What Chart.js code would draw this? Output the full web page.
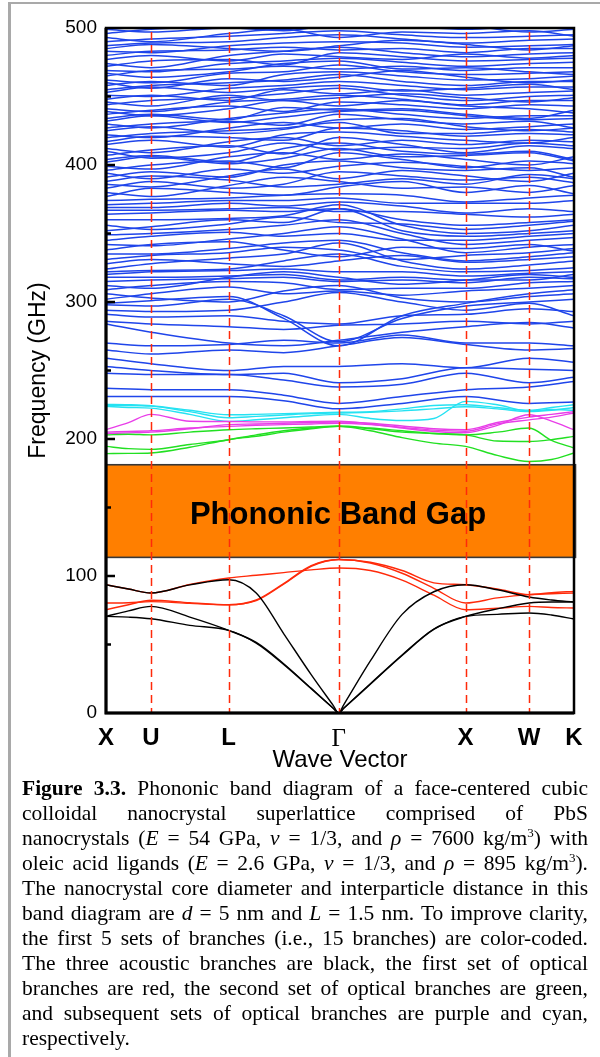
<!DOCTYPE html>
<html>
<head>
<meta charset="utf-8">
<script src="https://cdn.jsdelivr.net/npm/chart.js@4.4.1/dist/chart.umd.min.js"></script>
<style>
  html, body { margin: 0; padding: 0; background: #fff; }
  #page { position: relative; width: 600px; height: 1057px; overflow: hidden; }
  #frame { position: absolute; left: 8px; top: 2px; width: 700px; height: 1200px;
           border-top: 2px solid #a9a9a9; border-left: 3px solid #a9a9a9; }
  #plot { position: absolute; left: 0; top: 0; }
  #caption { position: absolute; left: 22px; top: 776px; width: 566px;
             font-family: 'Liberation Serif', 'Times New Roman', serif; font-size: 21.5px;
             line-height: 25px; color: #000; }
  #caption div { text-align: justify; text-align-last: justify; white-space: nowrap; }
  #caption div.last { text-align-last: left; }
  #caption sup { font-size: 13px; line-height: 0; vertical-align: 8px; }
</style>
</head>
<body>
<div id="page">
  <div id="frame"></div>
  <canvas id="plot" width="600" height="780"></canvas>
  <div id="caption">
    <div><b>Figure 3.3.</b> Phononic band diagram of a face-centered cubic</div>
    <div>colloidal nanocrystal superlattice comprised of PbS</div>
    <div>nanocrystals (<i>E</i> = 54 GPa, <i>ν</i> = 1/3, and <i>ρ</i> = 7600 kg/m<sup>3</sup>) with</div>
    <div>oleic acid ligands (<i>E</i> = 2.6 GPa, <i>ν</i> = 1/3, and <i>ρ</i> = 895 kg/m<sup>3</sup>).</div>
    <div>The nanocrystal core diameter and interparticle distance in this</div>
    <div>band diagram are <i>d</i> = 5 nm and <i>L</i> = 1.5 nm. To improve clarity,</div>
    <div>the first 5 sets of branches (i.e., 15 branches) are color-coded.</div>
    <div>The three acoustic branches are black, the first set of optical</div>
    <div>branches are red, the second set of optical branches are green,</div>
    <div>and subsequent sets of optical branches are purple and cyan,</div>
    <div class="last">respectively.</div>
  </div>
</div>
<script>
// high-symmetry points along X-U-L-Γ-X-W-K (path length in 2π/a)
const symX = [0, 0.354, 0.966, 1.832, 2.832, 3.332, 3.686];
const symLabels = ['X', 'U', 'L', 'Γ', 'X', 'W', 'K'];

// band gap limits (GHz)
const gapLow = 113.6;
const gapHigh = 181.2;

// sample positions for the low branches
const acousticX = [0, 0.177, 0.354, 0.66, 0.966, 1.183, 1.399, 1.616, 1.792, 1.832, 1.872,
                   2.082, 2.332, 2.582, 2.832, 3.082, 3.332, 3.509, 3.686];
const lowX = [0, 0.177, 0.354, 0.66, 0.966, 1.183, 1.399, 1.616, 1.832,
              2.082, 2.332, 2.582, 2.832, 3.082, 3.332, 3.509, 3.686];
// sample positions for the upper branches
const bandX = [0, 0.354, 0.966, 1.399, 1.832, 2.332, 2.832, 3.332, 3.686];

// acoustic branches (black)
const acousticBands = [
  [70.5, 70, 68.8, 64, 60.3, 51, 35.5, 17.8, 3.3, 0, 3.4, 21, 42, 61, 70.5, 72, 73, 71.5, 68.6],
  [70.5, 74.5, 77.8, 70, 60.3, 51.5, 36, 18, 3.3, 0, 3.4, 21.3, 42.3, 61.3, 70.5, 76, 80.3, 81, 81],
  [93.6, 90.5, 87.6, 93.5, 97.3, 87.6, 58, 28, 5.2, 0, 6, 38, 72, 88.5, 93.6, 90, 84.7, 82.5, 81]
];

// first optical set (red)
const redBands = [
  [93.6, 90.5, 87.6, 93.8, 98.5, 100.5, 102.5, 104.5, 105.8, 104, 97, 86, 75.4, 76.5, 77.8, 77, 76.6],
  [80.3, 80.5, 81.3, 80, 79, 82, 94, 107, 112, 109.5, 102, 91, 80.3, 84, 86.4, 87, 87.6],
  [75.4, 79, 82.3, 80.5, 79, 82.5, 94.5, 107.5, 112, 110, 104, 95, 93.6, 90.5, 86.4, 87.8, 88.8]
];

// second optical set (green)
const greenBands = [
  [189.3, 189.5, 189.8, 194, 199.5, 202, 205, 207.5, 209.2, 206, 201, 197, 194.6, 188, 183.6, 185, 189.8],
  [194.6, 193, 192.4, 196, 199.5, 203, 206, 208, 209.2, 207.5, 205, 204, 203, 198.5, 198.2, 199.5, 201.9],
  [203, 203.5, 203, 205, 206.8, 207.5, 208, 208.8, 209.5, 208, 206, 204, 203, 205, 208, 199, 193.4]
];

// third optical set (purple)
const purpleBands = [
  [206.8, 212, 218, 213, 212.8, 212.5, 212.5, 212.8, 213, 211, 208, 205.5, 204.6, 210, 217.7, 213, 206.8],
  [205, 205.5, 206, 208, 209.2, 210, 210.5, 211, 211.5, 210.5, 208.5, 206.5, 205.7, 211, 214, 216, 219],
  [204, 204.5, 205, 207.5, 210.5, 211, 211.5, 212, 212.3, 211.5, 209.5, 207.5, 206.8, 212, 216, 218, 220]
];

// fourth optical set (cyan)
const cyanBands = [
  [225.2, 225, 224.3, 221, 217.7, 218, 218.5, 219, 219.5, 220, 222, 224.5, 225, 223, 221, 223, 225],
  [224.5, 224.5, 224, 220, 215.5, 216.5, 217.5, 218.5, 219, 219.5, 220.5, 222, 223.5, 222, 220, 221, 223],
  [223.8, 223, 222.5, 218, 212.8, 214, 215.5, 217, 218, 215, 213.5, 215, 227.5, 225, 220.5, 221.5, 221]
];

// higher optical branches (blue)
const blueBands = [
  [231, 231, 231, 228, 222, 226, 231, 226, 227],
  [237, 236, 236, 232, 226, 231, 236, 238, 242],
  [248, 247, 247, 243, 238, 240, 248, 241, 245],
  [253, 250, 247, 248, 241, 244, 252, 251, 250],
  [259, 255, 250, 253, 253, 255, 252, 259, 256],
  [265, 262, 265, 263, 268, 274, 269, 265, 266],
  [270, 268, 269, 272, 270, 276, 270, 270, 268],
  [284, 278, 270, 268, 272, 278, 282, 285, 281],
  [286, 284, 282, 280, 283, 284, 286, 284, 286],
  [291, 289, 290, 286, 284, 290, 291, 295, 293],
  [294, 293, 294, 300, 307, 300, 294, 299, 290],
  [298, 297, 302, 290, 271, 288, 297, 300, 302],
  [299, 301, 304, 288, 268, 290, 299, 306, 309],
  [302, 306, 311, 306, 308, 305, 308, 310, 312],
  [306, 303, 300, 308, 312, 303, 300, 304, 306],
  [309, 312, 315, 314, 309, 310, 310, 314, 315],
  [312, 310, 318, 322, 318, 313, 316, 320, 318],
  [315, 316, 317, 318, 315, 316, 314, 318, 317],
  [318, 318, 319, 320, 316, 318, 316, 316, 320],
  [320, 322, 323, 324, 322, 322, 319, 321, 322],
  [322, 323, 324, 330, 335, 326, 322, 323, 325],
  [324, 328, 332, 335, 343, 330, 324, 327, 330],
  [328, 331, 328, 326, 330, 334, 329, 331, 333],
  [331, 334, 336, 340, 338, 331, 334, 336, 339],
  [335, 335, 339, 343, 345, 336, 330, 333, 336],
  [338, 342, 344, 338, 333, 340, 339, 342, 337],
  [342, 341, 346, 350, 355, 346, 336, 340, 342],
  [345, 348, 351, 348, 350, 345, 345, 348, 350],
  [349, 350, 353, 356, 360, 350, 342, 345, 347],
  [352, 355, 360, 358, 368, 352, 348, 350, 352],
  [356, 353, 357, 362, 358, 357, 353, 356, 359],
  [360, 360, 361, 363, 371, 356, 350, 352, 356],
  [364, 365, 367, 366, 368, 360, 356, 358, 360],
  [367, 367, 368, 369, 366, 366, 364, 362, 364],
  [369, 369, 372, 370, 373, 370, 365, 368, 366],
  [371, 372, 374, 374, 376, 372, 372, 372, 374],
  [374, 375, 376, 378, 379, 378, 373, 376, 378],
  [377, 383, 380, 378, 384, 388, 380, 385, 379],
  [380, 377, 385, 391, 388, 383, 384, 380, 385],
  [383, 388, 383, 386, 395, 392, 389, 391, 387],
  [386, 384, 392, 397, 390, 396, 392, 388, 394],
  [388, 392, 389, 384, 386, 390, 386, 393, 390],
  [391, 395, 391, 400, 403, 398, 396, 398, 391],
  [394, 390, 397, 394, 399, 402, 399, 396, 398],
  [396, 400, 403, 398, 409, 404, 398, 403, 401],
  [399, 397, 406, 409, 404, 408, 404, 400, 406],
  [402, 406, 401, 405, 412, 406, 407, 409, 403],
  [404, 407, 402, 412, 416, 410, 408, 410, 404],
  [407, 411, 414, 408, 420, 415, 409, 414, 412],
  [410, 405, 409, 416, 411, 413, 412, 416, 414],
  [412, 409, 417, 420, 414, 418, 415, 418, 417],
  [415, 418, 413, 422, 424, 421, 418, 416, 420],
  [417, 421, 420, 418, 427, 425, 421, 423, 422],
  [420, 423, 425, 427, 431, 423, 423, 426, 424],
  [422, 420, 427, 431, 427, 430, 426, 428, 430],
  [425, 428, 423, 426, 433, 434, 428, 425, 427],
  [427, 430, 432, 429, 437, 433, 430, 432, 427],
  [430, 427, 434, 438, 441, 437, 434, 436, 436],
  [432, 436, 431, 435, 439, 440, 436, 433, 434],
  [434, 437, 433, 442, 440, 441, 437, 434, 440],
  [437, 440, 443, 439, 446, 444, 441, 444, 443],
  [439, 436, 441, 447, 443, 447, 443, 441, 438],
  [441, 439, 446, 448, 451, 448, 444, 447, 447],
  [444, 447, 449, 452, 456, 451, 447, 450, 451],
  [446, 443, 451, 447, 449, 452, 449, 446, 449],
  [448, 451, 447, 455, 452, 455, 451, 453, 454],
  [451, 450, 456, 458, 461, 458, 455, 457, 457],
  [453, 457, 453, 456, 458, 454, 456, 459, 455],
  [455, 458, 460, 462, 466, 461, 458, 461, 461],
  [458, 461, 458, 466, 468, 465, 462, 463, 465],
  [460, 456, 463, 461, 464, 469, 464, 460, 462],
  [462, 460, 467, 468, 473, 468, 466, 467, 468],
  [465, 469, 470, 472, 470, 472, 469, 471, 471],
  [467, 464, 468, 474, 476, 470, 471, 468, 466],
  [469, 468, 474, 476, 478, 475, 472, 474, 475],
  [472, 476, 477, 473, 482, 479, 476, 477, 478],
  [474, 471, 480, 483, 486, 482, 479, 481, 482],
  [477, 480, 476, 481, 479, 477, 481, 478, 480],
  [480, 483, 484, 486, 484, 485, 482, 485, 485],
  [483, 482, 487, 489, 490, 489, 486, 487, 488],
  [485, 488, 485, 483, 487, 491, 488, 484, 487],
  [487, 489, 490, 493, 495, 492, 489, 491, 492],
  [490, 492, 494, 496, 498, 495, 493, 494, 495],
  [493, 490, 496, 499, 493, 497, 496, 498, 494],
  [496, 499, 501, 503, 505, 502, 499, 501, 501],
  [499, 497, 500, 498, 503, 505, 502, 497, 499]
];

function branch(xs, ys, color, width) {
  return {
    data: ys.map((y, i) => ({ x: xs[i], y: y })),
    borderColor: color,
    borderWidth: width,
    pointRadius: 0,
    fill: false,
    cubicInterpolationMode: 'monotone'
  };
}

// first dataset ends up on top, so the coloured branches go first
const datasets = [
  ...acousticBands.map(b => branch(acousticX, b, '#000000', 1.4)),
  ...redBands.map(b => branch(lowX, b, '#ff2a0a', 1.4)),
  ...greenBands.map(b => branch(lowX, b, '#22e022', 1.4)),
  ...purpleBands.map(b => branch(lowX, b, '#e83ee8', 1.4)),
  ...cyanBands.map(b => branch(lowX, b, '#25e2f2', 1.4)),
  ...blueBands.map(b => branch(bandX, b, '#1f45ea', 1.5))
];

const sansFont = "'Liberation Sans', Arial, sans-serif";

// orange band gap box with its label
const gapBox = {
  id: 'gapBox',
  beforeDatasetsDraw(chart) {
    const { ctx, scales: { x, y } } = chart;
    const x0 = x.getPixelForValue(0), x1 = x.getPixelForValue(symX[symX.length - 1]) + 1.5;
    const y0 = y.getPixelForValue(gapHigh), y1 = y.getPixelForValue(gapLow);
    ctx.save();
    ctx.fillStyle = '#ff7f00';
    ctx.fillRect(x0, y0, x1 - x0, y1 - y0);
    ctx.strokeStyle = '#383838';
    ctx.lineWidth = 1.6;
    ctx.strokeRect(x0, y0, x1 - x0, y1 - y0);
    ctx.fillStyle = '#000';
    ctx.font = 'bold 31px ' + sansFont;
    ctx.textAlign = 'center';
    ctx.textBaseline = 'alphabetic';
    ctx.fillText('Phononic Band Gap', 338, (y0 + y1) / 2 + 13);
    ctx.restore();
  }
};

// dashed lines at the inner symmetry points
const symLines = {
  id: 'symLines',
  afterDatasetsDraw(chart) {
    const { ctx, chartArea, scales: { x } } = chart;
    ctx.save();
    ctx.strokeStyle = '#ff2a0a';
    ctx.lineWidth = 1.5;
    ctx.setLineDash([8, 5]);
    symX.slice(1, -1).forEach(v => {
      const px = Math.round(x.getPixelForValue(v)) + 0.5;
      ctx.beginPath();
      ctx.moveTo(px, chartArea.top + 4);
      ctx.lineTo(px, chartArea.bottom);
      ctx.stroke();
    });
    ctx.restore();
  }
};

// plot frame and inward tick marks on the frequency axis
const frame = {
  id: 'frame',
  afterDraw(chart) {
    const { ctx, chartArea: a, scales: { y } } = chart;
    ctx.save();
    ctx.strokeStyle = '#000';
    ctx.lineWidth = 2.5;
    ctx.strokeRect(a.left, a.top, a.right - a.left, a.bottom - a.top);
    ctx.lineWidth = 3;
    ctx.beginPath();
    ctx.moveTo(a.left, a.top);
    ctx.lineTo(a.left, a.bottom);
    ctx.lineTo(a.right, a.bottom);
    ctx.stroke();
    ctx.lineWidth = 2.5;
    for (let v = 50; v < 500; v += 50) {
      const py = y.getPixelForValue(v);
      ctx.beginPath();
      ctx.moveTo(a.left, py);
      ctx.lineTo(a.left + (v % 100 === 0 ? 9 : 5), py);
      ctx.stroke();
    }
    ctx.restore();
  }
};

new Chart(document.getElementById('plot'), {
  type: 'line',
  data: { datasets },
  options: {
    responsive: false,
    animation: false,
    events: [],
    layout: { padding: { top: 28, right: 26, left: 0, bottom: 0 } },
    plugins: { legend: { display: false }, tooltip: { enabled: false } },
    scales: {
      x: {
        type: 'linear',
        min: 0,
        max: symX[symX.length - 1],
        afterBuildTicks(scale) { scale.ticks = symX.map(v => ({ value: v })); },
        afterFit(scale) { scale.height = 67; },
        grid: { display: false, drawTicks: false },
        border: { display: false },
        ticks: {
          autoSkip: false,
          maxRotation: 0,
          padding: 11,
          color: '#000',
          callback: (v, i) => symLabels[i],
          font: (c) => symLabels[c.index] === 'Γ'
            ? { family: "'Liberation Serif', serif", size: 25, weight: 'normal' }
            : { family: sansFont, size: 24, weight: 'bold' }
        },
        title: {
          display: true,
          text: 'Wave Vector',
          color: '#000',
          font: { family: sansFont, size: 24 },
          padding: { top: 0, bottom: 5 }
        }
      },
      y: {
        min: 0,
        max: 500,
        afterFit(scale) { scale.width = 106; },
        grid: { display: false, drawTicks: false },
        border: { display: false },
        ticks: { stepSize: 100, padding: 9, color: '#000', font: { family: sansFont, size: 19 } },
        title: {
          display: true,
          text: 'Frequency (GHz)',
          color: '#000',
          font: { family: sansFont, size: 23 },
          padding: { top: 25, bottom: 0 }
        }
      }
    }
  },
  plugins: [gapBox, symLines, frame]
});
</script>
</body>
</html>
